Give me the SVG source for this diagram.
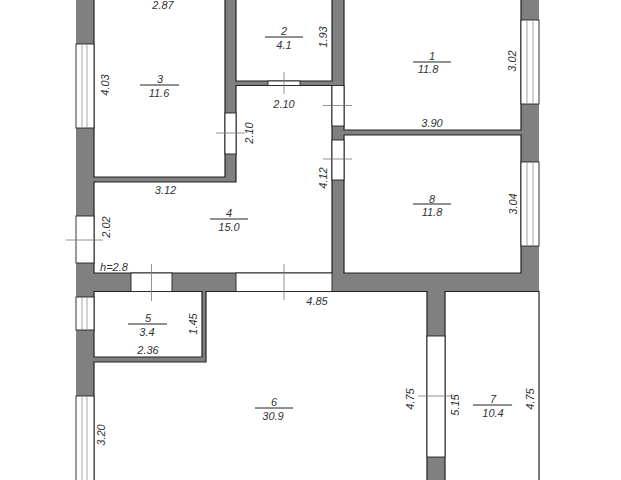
<svg xmlns="http://www.w3.org/2000/svg" width="621" height="480" viewBox="0 0 621 480">
<style>
.wall{fill:#808080;stroke:none}
.room{fill:#fff;stroke:#222;stroke-width:1.2}
.open{fill:#fff;stroke:#222;stroke-width:.9}
.glass{stroke:#999;stroke-width:.9;fill:none}
.tick{stroke:#777;stroke-width:.8;fill:none}
.bar{stroke:#222;stroke-width:1;fill:none}
text{font-family:"Liberation Sans",Arial,sans-serif;font-style:italic;font-size:11px;fill:#333;text-anchor:middle}
</style>
<rect width="621" height="480" fill="#fff"/>
<g id="walls">
<rect class="wall" x="76" y="-2" width="18" height="484"/>
<rect class="wall" x="521" y="-2" width="18" height="294"/>
<rect class="wall" x="76" y="273" width="463" height="18.500"/>
<rect class="wall" x="225" y="-2" width="11" height="184"/>
<rect class="wall" x="94" y="177" width="142" height="5"/>
<rect class="wall" x="332" y="-2" width="12" height="294"/>
<rect class="wall" x="236" y="81" width="96" height="5"/>
<rect class="wall" x="344" y="130" width="177" height="5"/>
<rect class="wall" x="202" y="291" width="4" height="71"/>
<rect class="wall" x="94" y="357" width="112" height="5"/>
<rect class="wall" x="427" y="291" width="18" height="191"/>
</g>
<g id="rooms">
<path class="room" d="M94-3H225V177H94Z"/>
<path class="room" d="M236-3H332V81H236Z"/>
<path class="room" d="M344-3H521V130H344Z"/>
<path class="room" d="M344 135H521V273H344Z"/>
<path class="room" d="M94 182H236V85.500H332V273H94Z"/>
<path class="room" d="M94 291.500H202V357H94Z"/>
<path class="room" d="M94 362H206V291.500H427V483H94Z"/>
<path class="room" d="M445 291.500H539V483H445Z"/>
</g>
<g id="openings">
<rect class="open" x="76" y="44" width="18" height="84"/>
<path class="glass" d="M82 44V128M87 44V128"/>
<rect class="open" x="76" y="216" width="18" height="47"/>
<rect class="open" x="76" y="297" width="18" height="33"/>
<path class="glass" d="M82 297V330M87 297V330"/>
<rect class="open" x="76" y="396" width="18" height="86"/>
<path class="glass" d="M82 396V482M87 396V482"/>
<rect class="open" x="521" y="20" width="18" height="84"/>
<path class="glass" d="M527 20V104M533 20V104"/>
<rect class="open" x="521" y="162" width="18" height="84"/>
<path class="glass" d="M527 162V246M533 162V246"/>
<rect class="open" x="225" y="113" width="11" height="41"/>
<rect class="open" x="268" y="81" width="32" height="4.500"/>
<rect class="open" x="332" y="85.500" width="12" height="40.500"/>
<rect class="open" x="332" y="140" width="12" height="40"/>
<rect class="open" x="131" y="273" width="41" height="18.500"/>
<rect class="open" x="236" y="273" width="96" height="18.500"/>
<rect class="open" x="427" y="336" width="18" height="121"/>
</g>
<g id="ticks">
<path class="tick" d="M216 133H245M284 72V94M323 105.500H352M323 159H352M66 240H103M151.500 264V301M284 264V300M418 396H455"/>
</g>
<g id="room-1"><path class="bar" d="M413 62H451"/><text x="432" y="60">1</text><text x="428" y="73">11.8</text></g>
<g id="room-2"><path class="bar" d="M265 37H303"/><text x="284" y="35">2</text><text x="284" y="49">4.1</text></g>
<g id="room-3"><path class="bar" d="M140 85H179"/><text x="160" y="83">3</text><text x="159" y="97">11.6</text></g>
<g id="room-4"><path class="bar" d="M210 219H248"/><text x="229" y="217">4</text><text x="229" y="231">15.0</text></g>
<g id="room-5"><path class="bar" d="M128 324H167"/><text x="148" y="322">5</text><text x="147" y="336">3.4</text></g>
<g id="room-6"><path class="bar" d="M255 408H293"/><text x="274" y="406">6</text><text x="273" y="420">30.9</text></g>
<g id="room-7"><path class="bar" d="M473 405H512"/><text x="493" y="403">7</text><text x="493" y="417">10.4</text></g>
<g id="room-8"><path class="bar" d="M413 204H451"/><text x="432" y="203">8</text><text x="432" y="216">11.8</text></g>
<g id="dimensions">
<text x="163" y="9">2.87</text>
<text x="284" y="108">2.10</text>
<text x="165.500" y="194">3.12</text>
<text x="432" y="127">3.90</text>
<text x="114" y="271">h=2.8</text>
<text x="148" y="354">2.36</text>
<text x="317" y="305">4.85</text>
<text transform="translate(109 85) rotate(-90)">4.03</text>
<text transform="translate(253 133) rotate(-90)">2.10</text>
<text transform="translate(327 37) rotate(-90)">1.93</text>
<text transform="translate(516 61) rotate(-90)">3.02</text>
<text transform="translate(517 204) rotate(-90)">3.04</text>
<text transform="translate(327 178) rotate(-90)">4.12</text>
<text transform="translate(110 227) rotate(-90)">2.02</text>
<text transform="translate(197 324) rotate(-90)">1.45</text>
<text transform="translate(105 435) rotate(-90)">3.20</text>
<text transform="translate(414 399) rotate(-90)">4.75</text>
<text transform="translate(459 405) rotate(-90)">5.15</text>
<text transform="translate(534 399) rotate(-90)">4.75</text>
</g>
</svg>
